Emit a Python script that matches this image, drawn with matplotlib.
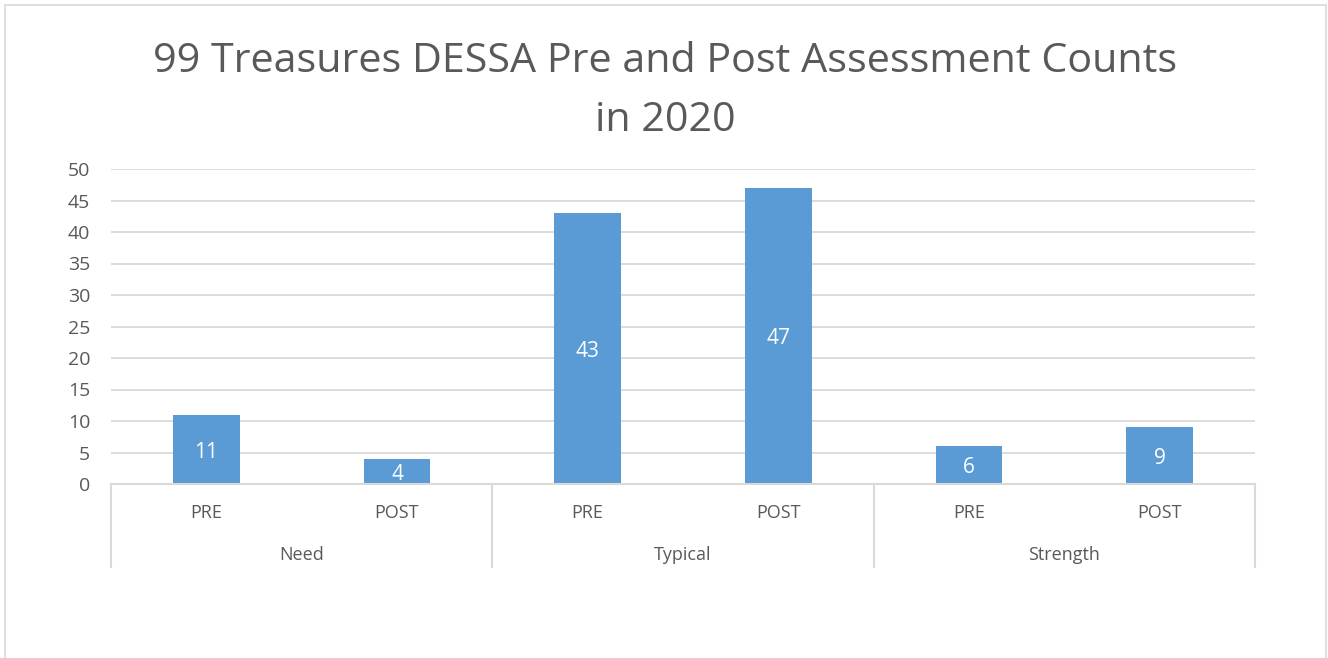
import numpy as np
import matplotlib.pyplot as plt
from matplotlib import transforms
from matplotlib.patches import Rectangle

# ===================== 全局设置 =====================
plt.rcParams['font.family'] = ['Open Sans', 'DejaVu Sans']

W, H = 1328, 658

# 数据
groups = ['Need', 'Typical', 'Strength']
phases = ['PRE', 'POST']
counts = [11, 4, 43, 47, 6, 9]

TEXT_C = '#595959'
GRID_C = '#D9D9D9'
BAR_C = '#5B9BD5'

fig = plt.figure(figsize=(W / 100, H / 100), dpi=100)

# 外框
fig.patches.append(Rectangle((5 / W, -0.05), 1321 / W, 1.05 - 5 / H,
                             transform=fig.transFigure, fill=False,
                             edgecolor=GRID_C, linewidth=1.2))

ax = fig.add_axes([111 / W, (H - 484) / H, 1144 / W, 315 / H])
x = np.arange(len(counts))
bars = ax.bar(x, counts, width=0.35, color=BAR_C, zorder=3)

ax.set_xlim(-0.5, len(counts) - 0.5)
ax.set_ylim(0, 50)
ax.set_yticks(np.arange(0, 51, 5))
ax.yaxis.grid(True, color=GRID_C, linewidth=1.3, zorder=0)
for s in ax.spines.values():
    s.set_visible(False)
ax.tick_params(axis='y', length=0, pad=15, labelsize=14, labelcolor=TEXT_C)
ax.set_xticks([])

# 数据标签（柱内居中）
for b, v in zip(bars, counts):
    ax.annotate(str(v), (b.get_x() + b.get_width() / 2, v / 2), xytext=(0, -2),
                textcoords='offset points', ha='center', va='center',
                color='white', fontsize=15, zorder=4)

# 多级分类轴
tr = transforms.blended_transform_factory(ax.transData, fig.transFigure)
y_top = (H - 484) / H
y_bot = (H - 567) / H
ax.plot([-0.5, len(counts) - 0.5], [y_top, y_top], transform=tr, color=GRID_C,
        linewidth=1.5, clip_on=False, zorder=5)
for i in range(len(groups) + 1):
    xb = -0.5 + i * len(phases)
    ax.plot([xb, xb], [y_top, y_bot], transform=tr, color=GRID_C,
            linewidth=1.5, clip_on=False)
for i, g in enumerate(groups):
    for j, p in enumerate(phases):
        ax.text(i * len(phases) + j, (H - 513) / H, p, transform=tr, ha='center',
                va='center', fontsize=13, color=TEXT_C)
    ax.text(i * len(phases) + (len(phases) - 1) / 2, (H - 555) / H, g, transform=tr,
            ha='center', va='center', fontsize=13, color=TEXT_C)

fig.text(665 / W, (H - 91) / H, '99 Treasures DESSA Pre and Post Assessment Counts\nin 2020',
         ha='center', va='center', fontsize=29.7, color=TEXT_C, linespacing=1.6)

fig.savefig('out.png', dpi=100)
